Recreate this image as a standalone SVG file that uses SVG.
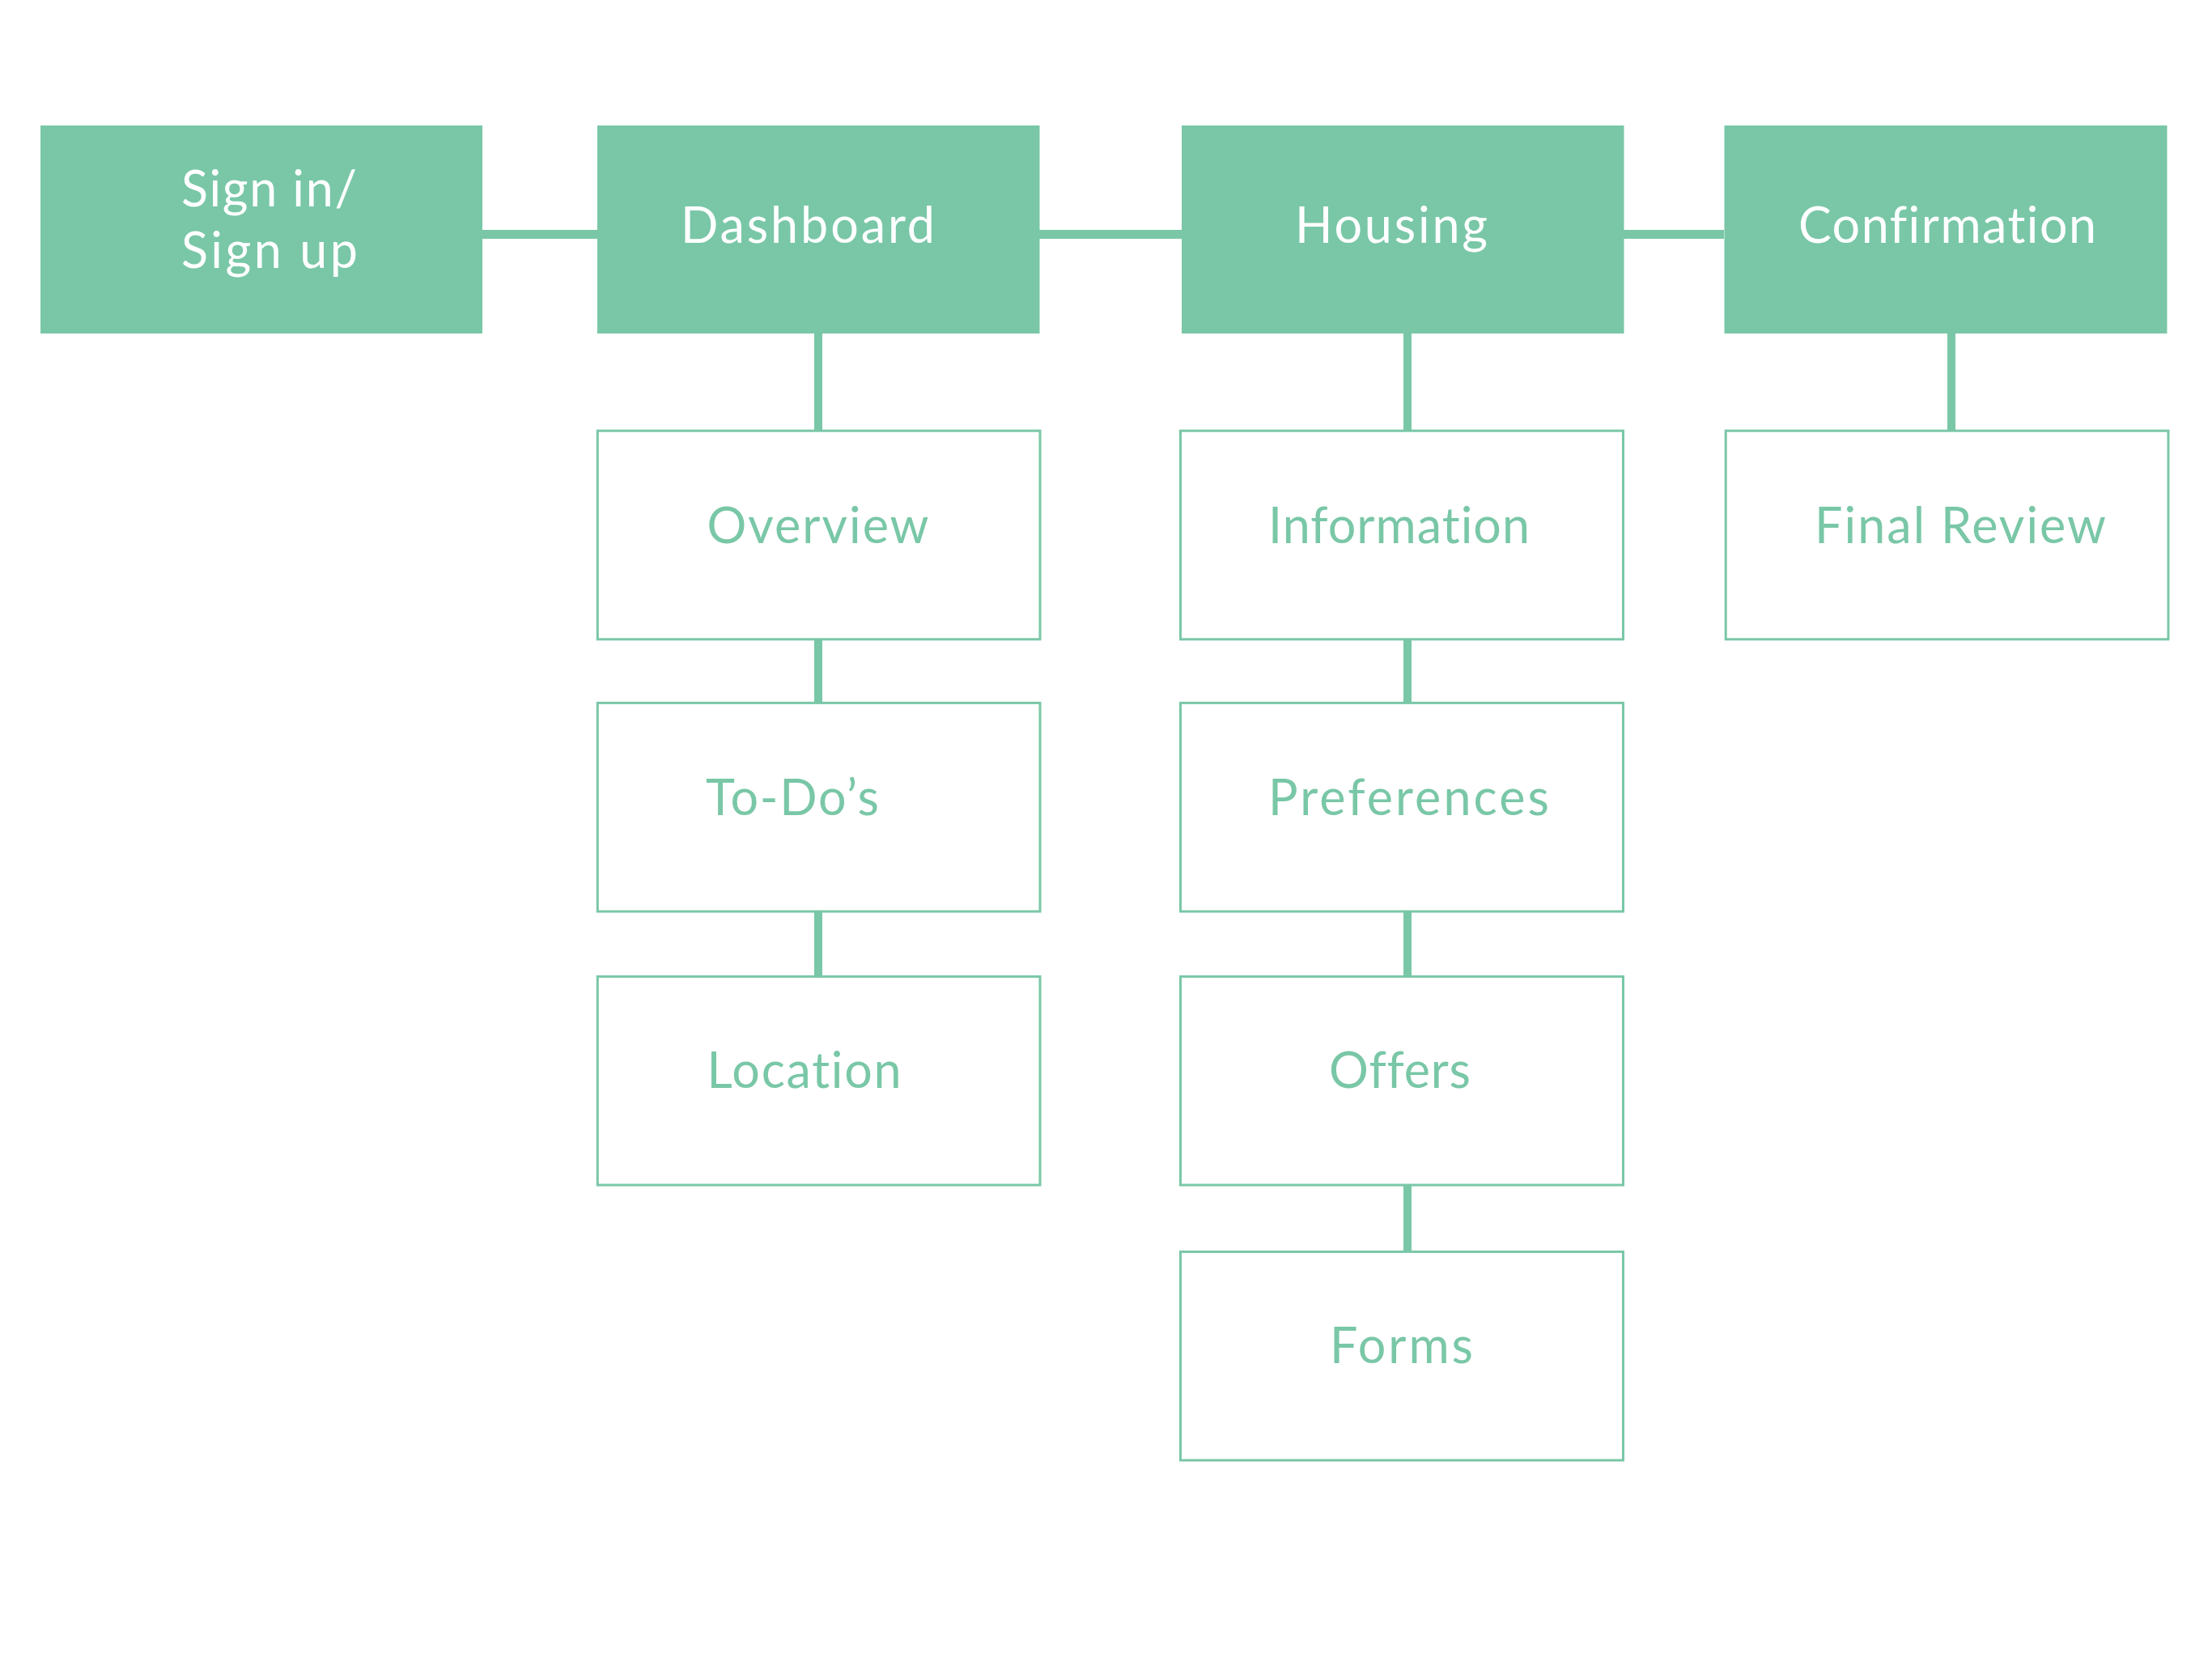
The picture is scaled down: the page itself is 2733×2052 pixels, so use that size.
<svg xmlns="http://www.w3.org/2000/svg" width="2733" height="2052" viewBox="0 0 2733 2052">
<style>
.main{fill:#79C7A7}
.sub{fill:#FFFFFF;stroke:#79C7A7;stroke-width:3}
.conn{stroke:#79C7A7;fill:none}
.h{stroke-width:11}
.v{stroke-width:10}
text{font-family:Lato,"Liberation Sans",sans-serif;font-size:61px;font-variant-ligatures:none;font-feature-settings:"liga" 0,"clig" 0}
.lw{fill:#FFFFFF}
.lg{fill:#79C7A7}
</style>
<rect width="2733" height="2052" fill="#FFFFFF"/>
<g id="connectors">
<line class="conn h" x1="596" y1="289.5" x2="738" y2="289.5"/>
<line class="conn h" x1="1284" y1="289.5" x2="1460" y2="289.5"/>
<line class="conn h" x1="2006" y1="289.5" x2="2130" y2="289.5"/>
<line class="conn v" x1="1011" y1="412" x2="1011" y2="532"/>
<line class="conn v" x1="1011" y1="790" x2="1011" y2="868"/>
<line class="conn v" x1="1011" y1="1126" x2="1011" y2="1206"/>
<line class="conn v" x1="1739" y1="412" x2="1739" y2="532"/>
<line class="conn v" x1="1739" y1="790" x2="1739" y2="868"/>
<line class="conn v" x1="1739" y1="1126" x2="1739" y2="1206"/>
<line class="conn v" x1="1739" y1="1464" x2="1739" y2="1546"/>
<line class="conn v" x1="2411" y1="412" x2="2411" y2="532"/>
</g>
<g id="signin">
<rect class="main" x="50" y="155" width="546" height="257"/>
<text class="lw" x="224" y="254.6" textLength="217">Sign in/</text>
<text class="lw" x="224" y="331" textLength="218">Sign up</text>
</g>
<g id="dashboard">
<rect class="main" x="738" y="155" width="546.5" height="257"/>
<text class="lw" x="841" y="299.5" textLength="314">Dashboard</text>
</g>
<g id="housing">
<rect class="main" x="1460" y="155" width="546.5" height="257"/>
<text class="lw" x="1600" y="299.5" textLength="238">Housing</text>
</g>
<g id="confirmation">
<rect class="main" x="2130.5" y="155" width="547" height="257"/>
<text class="lw" x="2222" y="299.5" textLength="368">Confirmation</text>
</g>
<g id="overview">
<rect class="sub" x="738.3" y="532.2" width="546.7" height="257.6"/>
<text class="lg" x="873.5" y="671.4" textLength="274">Overview</text>
</g>
<g id="todos">
<rect class="sub" x="738.3" y="868.4" width="546.7" height="257.6"/>
<text class="lg" x="872" y="1006.6" textLength="214">To-Do’s</text>
</g>
<g id="location">
<rect class="sub" x="738.3" y="1206.4" width="546.7" height="257.6"/>
<text class="lg" x="873.5" y="1344" textLength="240">Location</text>
</g>
<g id="information">
<rect class="sub" x="1458.5" y="532.2" width="547" height="257.6"/>
<text class="lg" x="1567" y="671.4" textLength="323">Information</text>
</g>
<g id="preferences">
<rect class="sub" x="1458.5" y="868.4" width="547" height="257.6"/>
<text class="lg" x="1567" y="1006.6" textLength="347">Preferences</text>
</g>
<g id="offers">
<rect class="sub" x="1458.5" y="1206.4" width="547" height="257.6"/>
<text class="lg" x="1642" y="1344" textLength="175">Offers</text>
</g>
<g id="forms">
<rect class="sub" x="1458.5" y="1546.4" width="547" height="257.6"/>
<text class="lg" x="1643" y="1684" textLength="177">Forms</text>
</g>
<g id="finalreview">
<rect class="sub" x="2132.2" y="532.2" width="546.8" height="257.6"/>
<text class="lg" x="2242" y="671.4" textLength="360">Final Review</text>
</g>
</svg>
